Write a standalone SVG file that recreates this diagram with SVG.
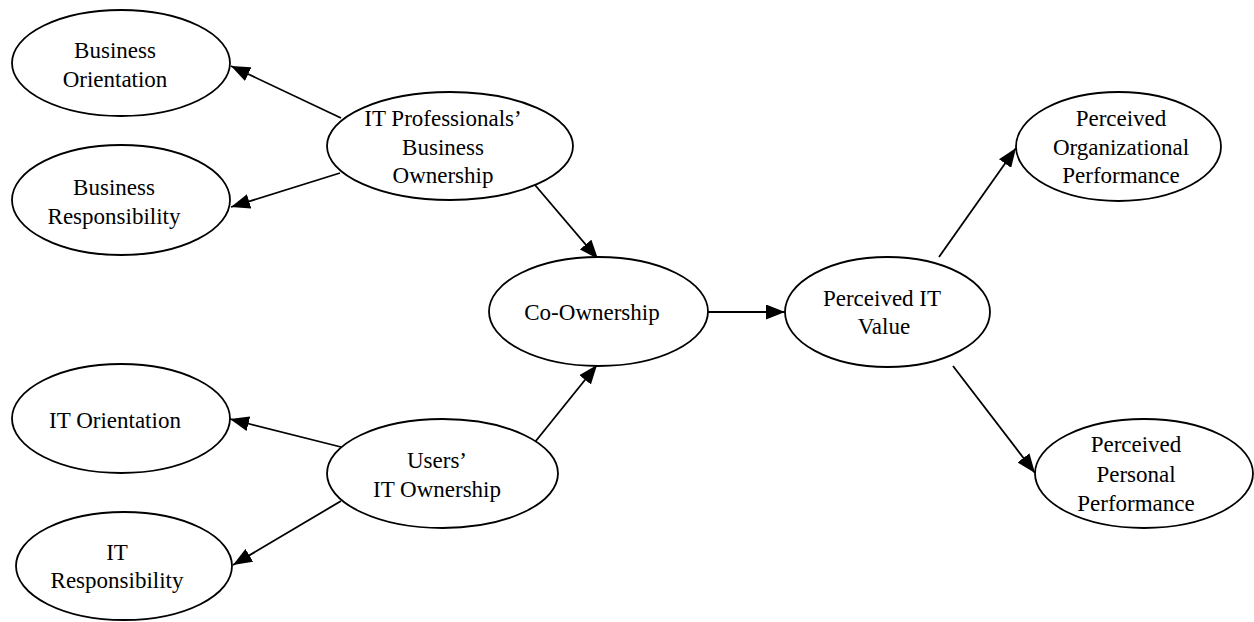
<svg xmlns="http://www.w3.org/2000/svg" width="1254" height="622" viewBox="0 0 1254 622">
  <style>
    .node ellipse { fill: #ffffff; stroke: #000000; stroke-width: 1.8; }
    .node text { font-family: "Liberation Serif", "Times New Roman", serif; font-size: 23px; fill: #000000; text-anchor: middle; }
    .edge { stroke: #000000; stroke-width: 1.8; fill: none; marker-end: url(#arrow); }
  </style>
  <defs>
    <marker id="arrow" viewBox="0 0 19 15" refX="19" refY="7.5" markerWidth="19" markerHeight="15" markerUnits="userSpaceOnUse" orient="auto">
      <path d="M0,0 L19,7.5 L0,15 z" fill="#000000"/>
    </marker>
  </defs>
  <rect width="1254" height="622" fill="#ffffff"/>

  <!-- connectors -->
  <g id="connectors">
    <line class="edge" x1="341" y1="118" x2="231" y2="66"/>
    <line class="edge" x1="340" y1="173" x2="231" y2="207"/>
    <line class="edge" x1="535" y1="185" x2="598" y2="259"/>
    <line class="edge" x1="707" y1="312" x2="785" y2="312"/>
    <line class="edge" x1="939" y1="257" x2="1016" y2="148"/>
    <line class="edge" x1="953" y1="366" x2="1035" y2="473"/>
    <line class="edge" x1="341" y1="447" x2="230" y2="419"/>
    <line class="edge" x1="341" y1="501" x2="233" y2="565"/>
    <line class="edge" x1="531" y1="447" x2="597" y2="365"/>
  </g>

  <g id="business-orientation" class="node">
    <ellipse cx="121" cy="63" rx="109" ry="53"/>
    <text x="115" y="58">Business</text>
    <text x="115" y="87">Orientation</text>
  </g>

  <g id="business-responsibility" class="node">
    <ellipse cx="121" cy="200" rx="109" ry="55"/>
    <text x="114" y="195">Business</text>
    <text x="114" y="224">Responsibility</text>
  </g>

  <g id="it-professionals-business-ownership" class="node">
    <ellipse cx="450" cy="146" rx="123" ry="54"/>
    <text x="443" y="126">IT Professionals’</text>
    <text x="443" y="155">Business</text>
    <text x="443" y="183">Ownership</text>
  </g>

  <g id="co-ownership" class="node">
    <ellipse cx="598.5" cy="311.5" rx="109.5" ry="54.5"/>
    <text x="592" y="320">Co-Ownership</text>
  </g>

  <g id="perceived-it-value" class="node">
    <ellipse cx="887.5" cy="312" rx="102.5" ry="55"/>
    <text x="882" y="306">Perceived IT</text>
    <text x="884" y="334">Value</text>
  </g>

  <g id="perceived-organizational-performance" class="node">
    <ellipse cx="1118.5" cy="146.5" rx="102.5" ry="54.5"/>
    <text x="1121" y="126">Perceived</text>
    <text x="1121" y="155">Organizational</text>
    <text x="1121" y="183">Performance</text>
  </g>

  <g id="perceived-personal-performance" class="node">
    <ellipse cx="1144" cy="473.5" rx="109" ry="54.5"/>
    <text x="1136" y="452">Perceived</text>
    <text x="1136" y="482">Personal</text>
    <text x="1136" y="511">Performance</text>
  </g>

  <g id="it-orientation" class="node">
    <ellipse cx="121" cy="418.5" rx="109" ry="54.5"/>
    <text x="115" y="428">IT Orientation</text>
  </g>

  <g id="it-responsibility" class="node">
    <ellipse cx="124" cy="566" rx="108" ry="54"/>
    <text x="117" y="560">IT</text>
    <text x="117" y="588">Responsibility</text>
  </g>

  <g id="users-it-ownership" class="node">
    <ellipse cx="442.5" cy="473.5" rx="115.5" ry="54.5"/>
    <text x="437" y="468">Users’</text>
    <text x="437" y="497">IT Ownership</text>
  </g>
</svg>
